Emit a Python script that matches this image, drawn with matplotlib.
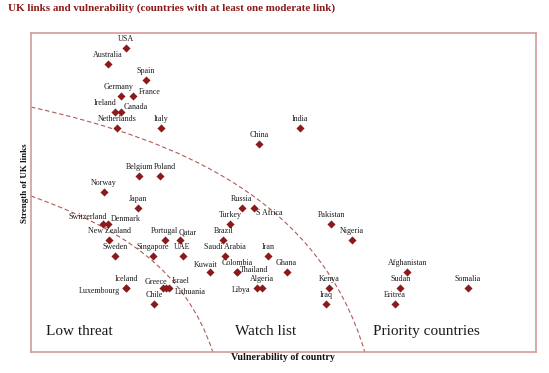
import matplotlib.pyplot as plt
from matplotlib.path import Path
from matplotlib.patches import PathPatch

plt.rcParams['font.family'] = ['Liberation Serif', 'DejaVu Serif']

# country data: vulnerability (x) and strength of UK links (y)
countries = ['USA', 'Australia', 'Spain', 'Germany', 'France', 'Ireland', 'Canada',
             'Netherlands', 'Italy', 'India', 'China', 'Belgium', 'Poland', 'Norway',
             'Japan', 'Russia', 'S Africa', 'Switzerland', 'Denmark', 'Turkey', 'Pakistan',
             'New Zealand', 'Portugal', 'Qatar', 'Brazil', 'Nigeria', 'Sweden', 'Singapore',
             'UAE', 'Saudi Arabia', 'Iran', 'Kuwait', 'Colombia', 'Thailand', 'Ghana',
             'Afghanistan', 'Iceland', 'Luxembourg', 'Greece', 'Israel', 'Lithuania',
             'Algeria', 'Libya', 'Kenya', 'Sudan', 'Somalia', 'Chile', 'Iraq', 'Eritrea']
vulnerability = [18.8, 15.2, 22.7, 17.8, 20.1, 16.6, 17.8,
                 17.0, 25.7, 53.2, 45.2, 21.4, 25.5, 14.4,
                 21.1, 41.7, 44.2, 14.3, 15.2, 39.4, 59.5,
                 15.5, 26.5, 29.5, 38.1, 63.5, 16.6, 24.2,
                 30.0, 38.4, 46.9, 35.5, 40.8, 40.8, 50.6,
                 74.5, 18.9, 18.9, 26.1, 26.7, 27.3,
                 45.7, 44.8, 59.0, 73.1, 86.5, 24.4, 58.4, 72.1]
strength = [17, 16, 15, 14, 14, 13, 13,
            12, 12, 12, 11, 9, 9, 8,
            7, 7, 7, 6, 6, 6, 6,
            5, 5, 5, 5, 5, 4, 4,
            4, 4, 4, 3, 3, 3, 3,
            3, 2, 2, 2, 2, 2,
            2, 2, 2, 2, 2, 1, 1, 1]

# boundary curves (cubic bezier control points)
low_curve_x = [0, 17.6, 30.5, 36.0]
low_curve_y = [7.77, 5.77, 3.27, -1.98]
watch_curve_x = [0, 29.5, 57.2, 66.1]
watch_curve_y = [13.33, 11.27, 7.52, -1.98]

regions = ['Low threat', 'Watch list', 'Priority countries']
region_x = [9.5, 46.5, 78.2]

red = '#8b1a1a'

# label offsets in points (dx, dy, ha) where not simply above the marker
offsets = {
    'France': (4.5, 3, 'left'), 'Ireland': (-7, 6.5, 'center'),
    'Canada': (2, 3.5, 'left'), 'S Africa': (1.5, -3.5, 'left'),
    'Switzerland': (-11.5, 5.5, 'center'), 'Denmark': (2.5, 3.5, 'left'),
    'Qatar': (5.5, 5.5, 'center'), 'Kuwait': (-3, 5.5, 'center'),
    'Luxembourg': (-5, -2, 'right'), 'Greece': (-5, 4.5, 'center'),
    'Israel': (4.5, 5, 'left'), 'Lithuania': (4, -2.5, 'left'),
    'Thailand': (2, 1.5, 'left'), 'Libya': (-5, -1.5, 'right'),
    'Germany': (-1.5, 6.5, 'center'), 'Poland': (3.5, 6.5, 'center'),
}

fig = plt.figure(figsize=(5.49, 3.73), dpi=100)
ax = fig.add_axes([0.0565, 0.0563, 0.9198, 0.8552])

ax.scatter(vulnerability, strength, marker='D', s=17, color=red, zorder=3, linewidths=0)

for name, x, y in zip(countries, vulnerability, strength):
    dx, dy, ha = offsets.get(name, (0, 6.5, 'center'))
    ax.annotate(name, (x, y), xytext=(dx, dy), textcoords='offset points',
                ha=ha, va='center', fontsize=5.8, color='#1a1a1a')

for cx, cy in [(low_curve_x, low_curve_y), (watch_curve_x, watch_curve_y)]:
    path = Path(list(zip(cx, cy)), [Path.MOVETO, Path.CURVE4, Path.CURVE4, Path.CURVE4])
    ax.add_patch(PathPatch(path, fill=False, edgecolor='#b25a5a', lw=0.8, ls=(0, (4, 2.5))))

for name, x in zip(regions, region_x):
    ax.text(x, -0.67, name, ha='center', va='center', fontsize=11, color='#1a1a1a')

ax.set_xlim(0, 100)
ax.set_ylim(-1.98, 17.96)
ax.set_xticks([])
ax.set_yticks([])
for sp in ax.spines.values():
    sp.set_color('#d49a9a')
    sp.set_linewidth(1.2)

fig.text(8 / 549, 1 - 8 / 373, 'UK links and vulnerability (countries with at least one moderate link)',
         ha='left', va='center', fontsize=7.9, fontweight='bold', color=red)
fig.text(283 / 549, 1 - 358 / 373, 'Vulnerability of country', ha='center', va='center',
         fontsize=7.2, fontweight='bold', color='#111111')
fig.text(25 / 549, 1 - 183 / 373, 'Strength of UK links', ha='center', va='center',
         rotation=90, fontsize=6.5, fontweight='bold', color='#111111')

fig.savefig('out.png', dpi=100)
